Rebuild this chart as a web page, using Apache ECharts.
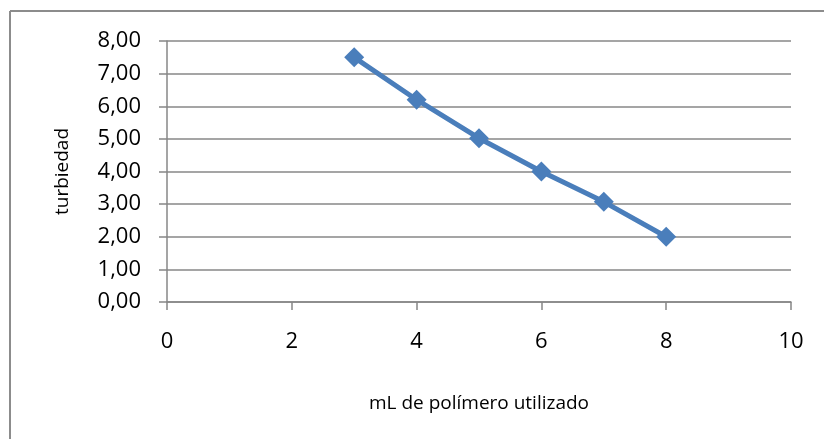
<!DOCTYPE html>
<html>
<head>
<meta charset="utf-8">
<script src="https://cdn.jsdelivr.net/npm/echarts@6/dist/echarts.min.js"></script>
<style>
html,body{margin:0;padding:0;background:#fff;}
#c{width:824px;height:439px;}
</style>
</head>
<body>
<div id="c"></div>
<script>
const xValues = [3, 4, 5, 6, 7, 8];
const turbiedad = [7.5, 6.2, 5.02, 4.0, 3.07, 2.0];
const xAxisTitle = 'mL de polímero utilizado';
const yAxisTitle = 'turbiedad';

const font = 'Open Sans';
const gridColor = '#878787';
const seriesColor = '#4A7EBB';

const chart = echarts.init(document.getElementById('c'), null, {renderer: 'canvas'});
chart.setOption({
  animation: false,
  backgroundColor: '#fff',
  graphic: [
    {type: 'line', shape: {x1: 10, y1: 11, x2: 824, y2: 11}, style: {stroke: '#8c8c8c', lineWidth: 2}},
    {type: 'line', shape: {x1: 10, y1: 11, x2: 10, y2: 439}, style: {stroke: '#8c8c8c', lineWidth: 2}}
  ],
  grid: {left: 167, right: 33, top: 41, bottom: 137},
  xAxis: {
    type: 'value', min: 0, max: 10, interval: 2,
    name: xAxisTitle, nameLocation: 'middle', nameGap: 92,
    nameTextStyle: {fontFamily: font, fontSize: 19, color: '#000'},
    axisLine: {show: true, lineStyle: {color: gridColor, width: 1.5}},
    axisTick: {show: true, length: 8, lineStyle: {color: gridColor, width: 1.5}},
    axisLabel: {fontFamily: font, fontSize: 22, color: '#000', margin: 29},
    splitLine: {show: false}
  },
  yAxis: {
    type: 'value', min: 0, max: 8, interval: 1,
    name: yAxisTitle, nameLocation: 'middle', nameGap: 95, nameRotate: 90,
    nameTextStyle: {fontFamily: font, fontSize: 19, color: '#000'},
    axisLine: {show: true, lineStyle: {color: gridColor, width: 1.5}},
    axisTick: {show: true, length: 8, inside: false, lineStyle: {color: gridColor, width: 1.5}},
    axisLabel: {fontFamily: font, fontSize: 22, color: '#000', margin: 26,
      formatter: v => v.toFixed(2).replace('.', ',')},
    splitLine: {show: true, lineStyle: {color: gridColor, width: 1.5}}
  },
  series: [{
    type: 'line',
    data: xValues.map((x, i) => [x, turbiedad[i]]),
    symbol: 'diamond', symbolSize: 20,
    itemStyle: {color: seriesColor},
    lineStyle: {color: seriesColor, width: 5}
  }]
});
</script>
</body>
</html>
